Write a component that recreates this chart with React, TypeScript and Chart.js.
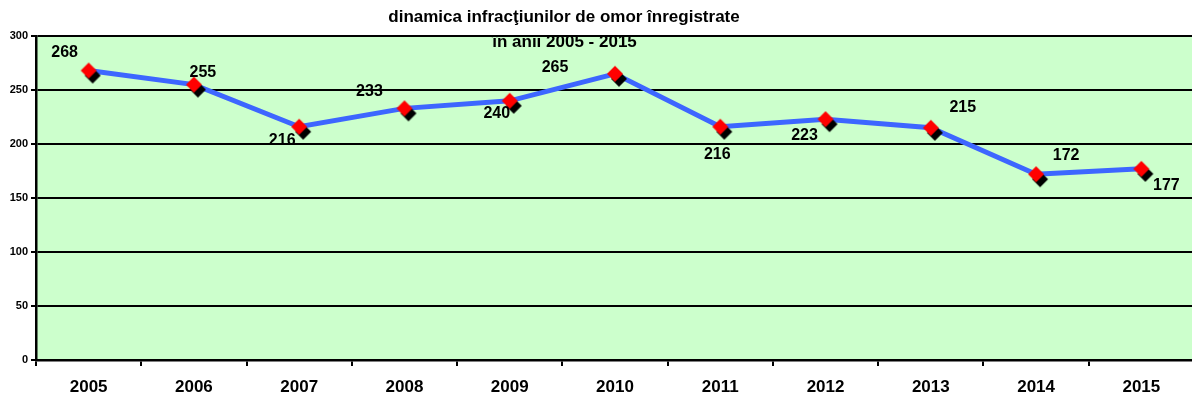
import React, { useEffect, useRef } from "react";
import { Chart, registerables } from "chart.js";

Chart.register(...registerables);

// ---- data ----
const years = ["2005", "2006", "2007", "2008", "2009", "2010", "2011", "2012", "2013", "2014", "2015"];
const omoruri = [268, 255, 216, 233, 240, 265, 216, 223, 215, 172, 177];
const yTickValues = [0, 50, 100, 150, 200, 250, 300];
const titleLines = ["dinamica infracţiunilor de omor înregistrate", "în anii 2005 - 2015"];

// ---- label placement (style, relative to each point) ----
const labelOffsets: [number, number][] = [
  [-24, -18], [9, -12], [-17, 14], [-35, -17], [-13, 13], [-60, -6],
  [-3, 28], [-21, 16], [32, -20], [30, -19], [25, 17],
];

const FONT = "Arial, 'Liberation Sans', sans-serif";

function makeMarker(): HTMLCanvasElement {
  const c = document.createElement("canvas");
  c.width = 30;
  c.height = 30;
  const g = c.getContext("2d")!;
  const diamond = (cx: number, cy: number, r: number, color: string) => {
    g.beginPath();
    g.moveTo(cx, cy - r);
    g.lineTo(cx + r, cy);
    g.lineTo(cx, cy + r);
    g.lineTo(cx - r, cy);
    g.closePath();
    g.fillStyle = color;
    g.fill();
  };
  diamond(19, 20, 8, "#000000");
  diamond(15, 15, 8, "#FF0000");
  return c;
}

export default function App() {
  const ref = useRef<HTMLCanvasElement | null>(null);

  useEffect(() => {
    if (!ref.current) return;
    const marker = makeMarker();

    const bgPlugin = {
      id: "plotBg",
      beforeDraw(chart: any) {
        const { ctx, chartArea } = chart;
        ctx.save();
        ctx.fillStyle = "#CCFFCC";
        ctx.fillRect(chartArea.left, chartArea.top, chartArea.right - chartArea.left, chartArea.bottom - chartArea.top);
        ctx.restore();
      },
    };

    const labelPlugin = {
      id: "valueLabels",
      afterDatasetsDraw(chart: any) {
        const { ctx } = chart;
        const meta = chart.getDatasetMeta(0);
        ctx.save();
        ctx.font = `bold 16px ${FONT}`;
        ctx.fillStyle = "#000";
        ctx.textAlign = "center";
        ctx.textBaseline = "middle";
        meta.data.forEach((pt: any, i: number) => {
          const [dx, dy] = labelOffsets[i] || [0, -14];
          ctx.fillText(String(omoruri[i]), pt.x + dx, pt.y + dy);
        });
        ctx.restore();
      },
      afterDraw(chart: any) {
        const { ctx } = chart;
        ctx.save();
        ctx.font = `bold 17px ${FONT}`;
        ctx.fillStyle = "#000";
        ctx.textAlign = "center";
        ctx.textBaseline = "middle";
        ctx.fillText(titleLines[0], 564, 17);
        ctx.fillText(titleLines[1], 564.5, 42);
        ctx.restore();
      },
    };

    const chart = new Chart(ref.current, {
      type: "line",
      data: {
        labels: years,
        datasets: [
          {
            data: omoruri,
            borderColor: "#3D66FF",
            borderWidth: 5,
            pointStyle: marker as any,
            pointRadius: 8,
            pointHoverRadius: 8,
            tension: 0,
            fill: false,
          },
        ],
      },
      options: {
        responsive: false,
        animation: false,
        events: [],
        layout: { autoPadding: false, padding: { left: 0, top: 36, right: 6, bottom: 0 } },
        plugins: {
          legend: { display: false },
          title: { display: false },
          tooltip: { enabled: false },
        },
        scales: {
          x: {
            offset: true,
            grid: {
              offset: true,
              drawOnChartArea: false,
              drawTicks: true,
              tickLength: 6,
              color: "#000",
              lineWidth: 2,
            },
            border: { display: true, color: "#000", width: 2.5 },
            ticks: {
              color: "#000",
              font: { family: FONT, size: 17, weight: "bold" },
              padding: 11,
              maxRotation: 0,
              autoSkip: false,
            },
            afterFit(scale: any) {
              scale.height = 40;
              scale.paddingLeft = 0;
              scale.paddingRight = 0;
            },
          },
          y: {
            min: 0,
            max: 300,
            afterBuildTicks(scale: any) {
              scale.ticks = yTickValues.map((v) => ({ value: v }));
            },
            grid: {
              color: "#000",
              lineWidth: 2,
              drawTicks: true,
              tickLength: 5,
            },
            border: { display: true, color: "#000", width: 2.5 },
            ticks: {
              color: "#000",
              font: { family: FONT, size: 11, weight: "bold" },
              padding: 3,
            },
            afterFit(scale: any) {
              scale.width = 36;
            },
          },
        },
      },
      plugins: [bgPlugin, labelPlugin],
    });

    return () => chart.destroy();
  }, []);

  return (
    <div
      style={{
        position: "fixed",
        left: 0,
        top: 0,
        width: 1192,
        height: 400,
        overflow: "hidden",
        background: "#fff",
      }}
    >
      <canvas ref={ref} width={1200} height={400} style={{ display: "block" }} />
    </div>
  );
}
